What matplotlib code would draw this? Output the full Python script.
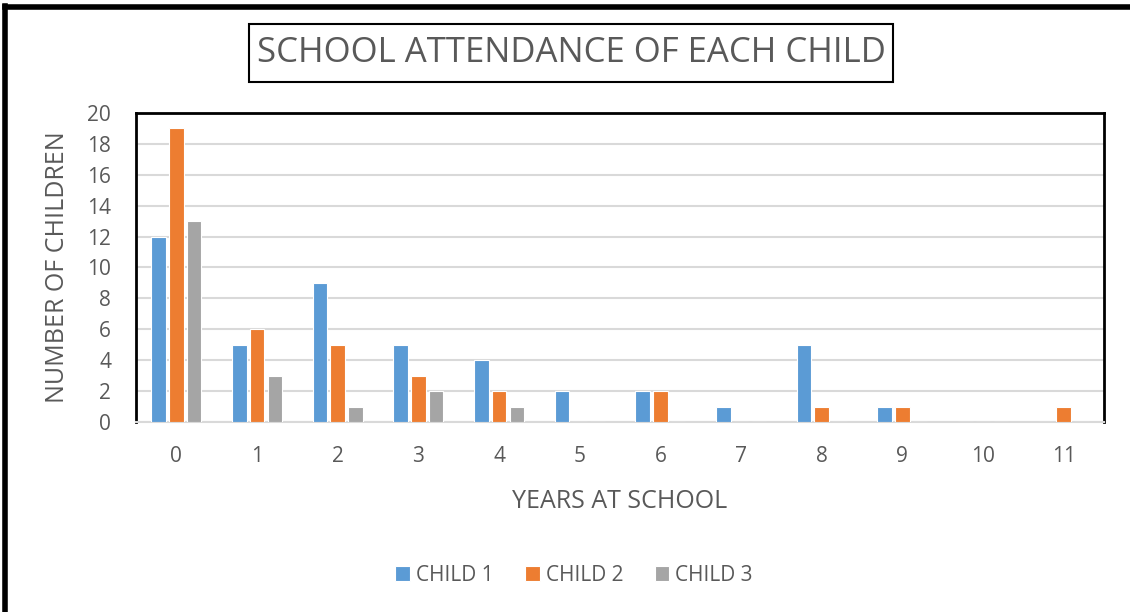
import matplotlib
matplotlib.use("Agg")
import matplotlib.pyplot as plt
import numpy as np
from matplotlib.lines import Line2D
from matplotlib.patches import Rectangle

years = ["0", "1", "2", "3", "4", "5", "6", "7", "8", "9", "10", "11"]
child1 = [12, 5, 9, 5, 4, 2, 2, 1, 5, 1, 0, 0]
child2 = [19, 6, 5, 3, 2, 0, 2, 0, 1, 1, 0, 1]
child3 = [13, 3, 1, 2, 1, 0, 0, 0, 0, 0, 0, 0]
series_names = ["CHILD 1", "CHILD 2", "CHILD 3"]
colors = ["#5b9bd5", "#ed7d31", "#a5a5a5"]

plt.rcParams['font.family'] = ['Open Sans', 'DejaVu Sans']
txt = "#595959"

fig = plt.figure(figsize=(11.3, 6.12), dpi=100)
ax = fig.add_axes([0.1204, 0.3105, 0.8566, 0.505])

x = np.arange(len(years))
w = 0.18
off = 0.22
for i, vals in enumerate([child1, child2, child3]):
    ax.bar(x + (i - 1) * off, vals, w, color=colors[i], edgecolor="white",
           linewidth=0.8, label=series_names[i], zorder=3)

ax.set_xlim(-0.5, len(years) - 0.5)
ax.set_ylim(0, 20)
ax.set_yticks(range(0, 21, 2))
ax.set_xticks(x)
ax.set_xticklabels(years)
ax.tick_params(axis="both", length=0, labelsize=15, labelcolor=txt)
ax.tick_params(axis="x", pad=17)
ax.tick_params(axis="y", pad=18)
ax.grid(axis="y", color="#d9d9d9", linewidth=1.5, zorder=0)
for s in ["top", "left", "right"]:
    ax.spines[s].set_color("black")
    ax.spines[s].set_linewidth(2)
ax.spines["bottom"].set_color("#d9d9d9")
ax.spines["bottom"].set_linewidth(1.5)

ax.set_xlabel("YEARS AT SCHOOL", fontsize=18, color=txt, labelpad=16)
ax.set_ylabel("NUMBER OF CHILDREN", fontsize=18, color=txt, labelpad=12)

# title with its frame
fig.add_artist(Rectangle((0.2204, 0.866), 0.5699, 0.0948, transform=fig.transFigure,
                         facecolor="white", edgecolor="black", linewidth=1.5))
fig.text(0.5053, 0.9134, "SCHOOL ATTENDANCE OF EACH CHILD", fontsize=25, color=txt,
         ha="center", va="center")

fig.legend(loc="center", bbox_to_anchor=(0.508, 0.06), ncol=3, frameon=False,
           fontsize=15, labelcolor=txt, handlelength=0.7, handleheight=0.7,
           handletextpad=0.3, columnspacing=1.5)

# outer chart border (left and top visible)
fig.add_artist(Line2D([0.004, 0.004], [0, 0.99], transform=fig.transFigure, color="black", linewidth=4))
fig.add_artist(Line2D([0.004, 1.0], [0.988, 0.988], transform=fig.transFigure, color="black", linewidth=4))

fig.savefig("out.png", dpi=100)
